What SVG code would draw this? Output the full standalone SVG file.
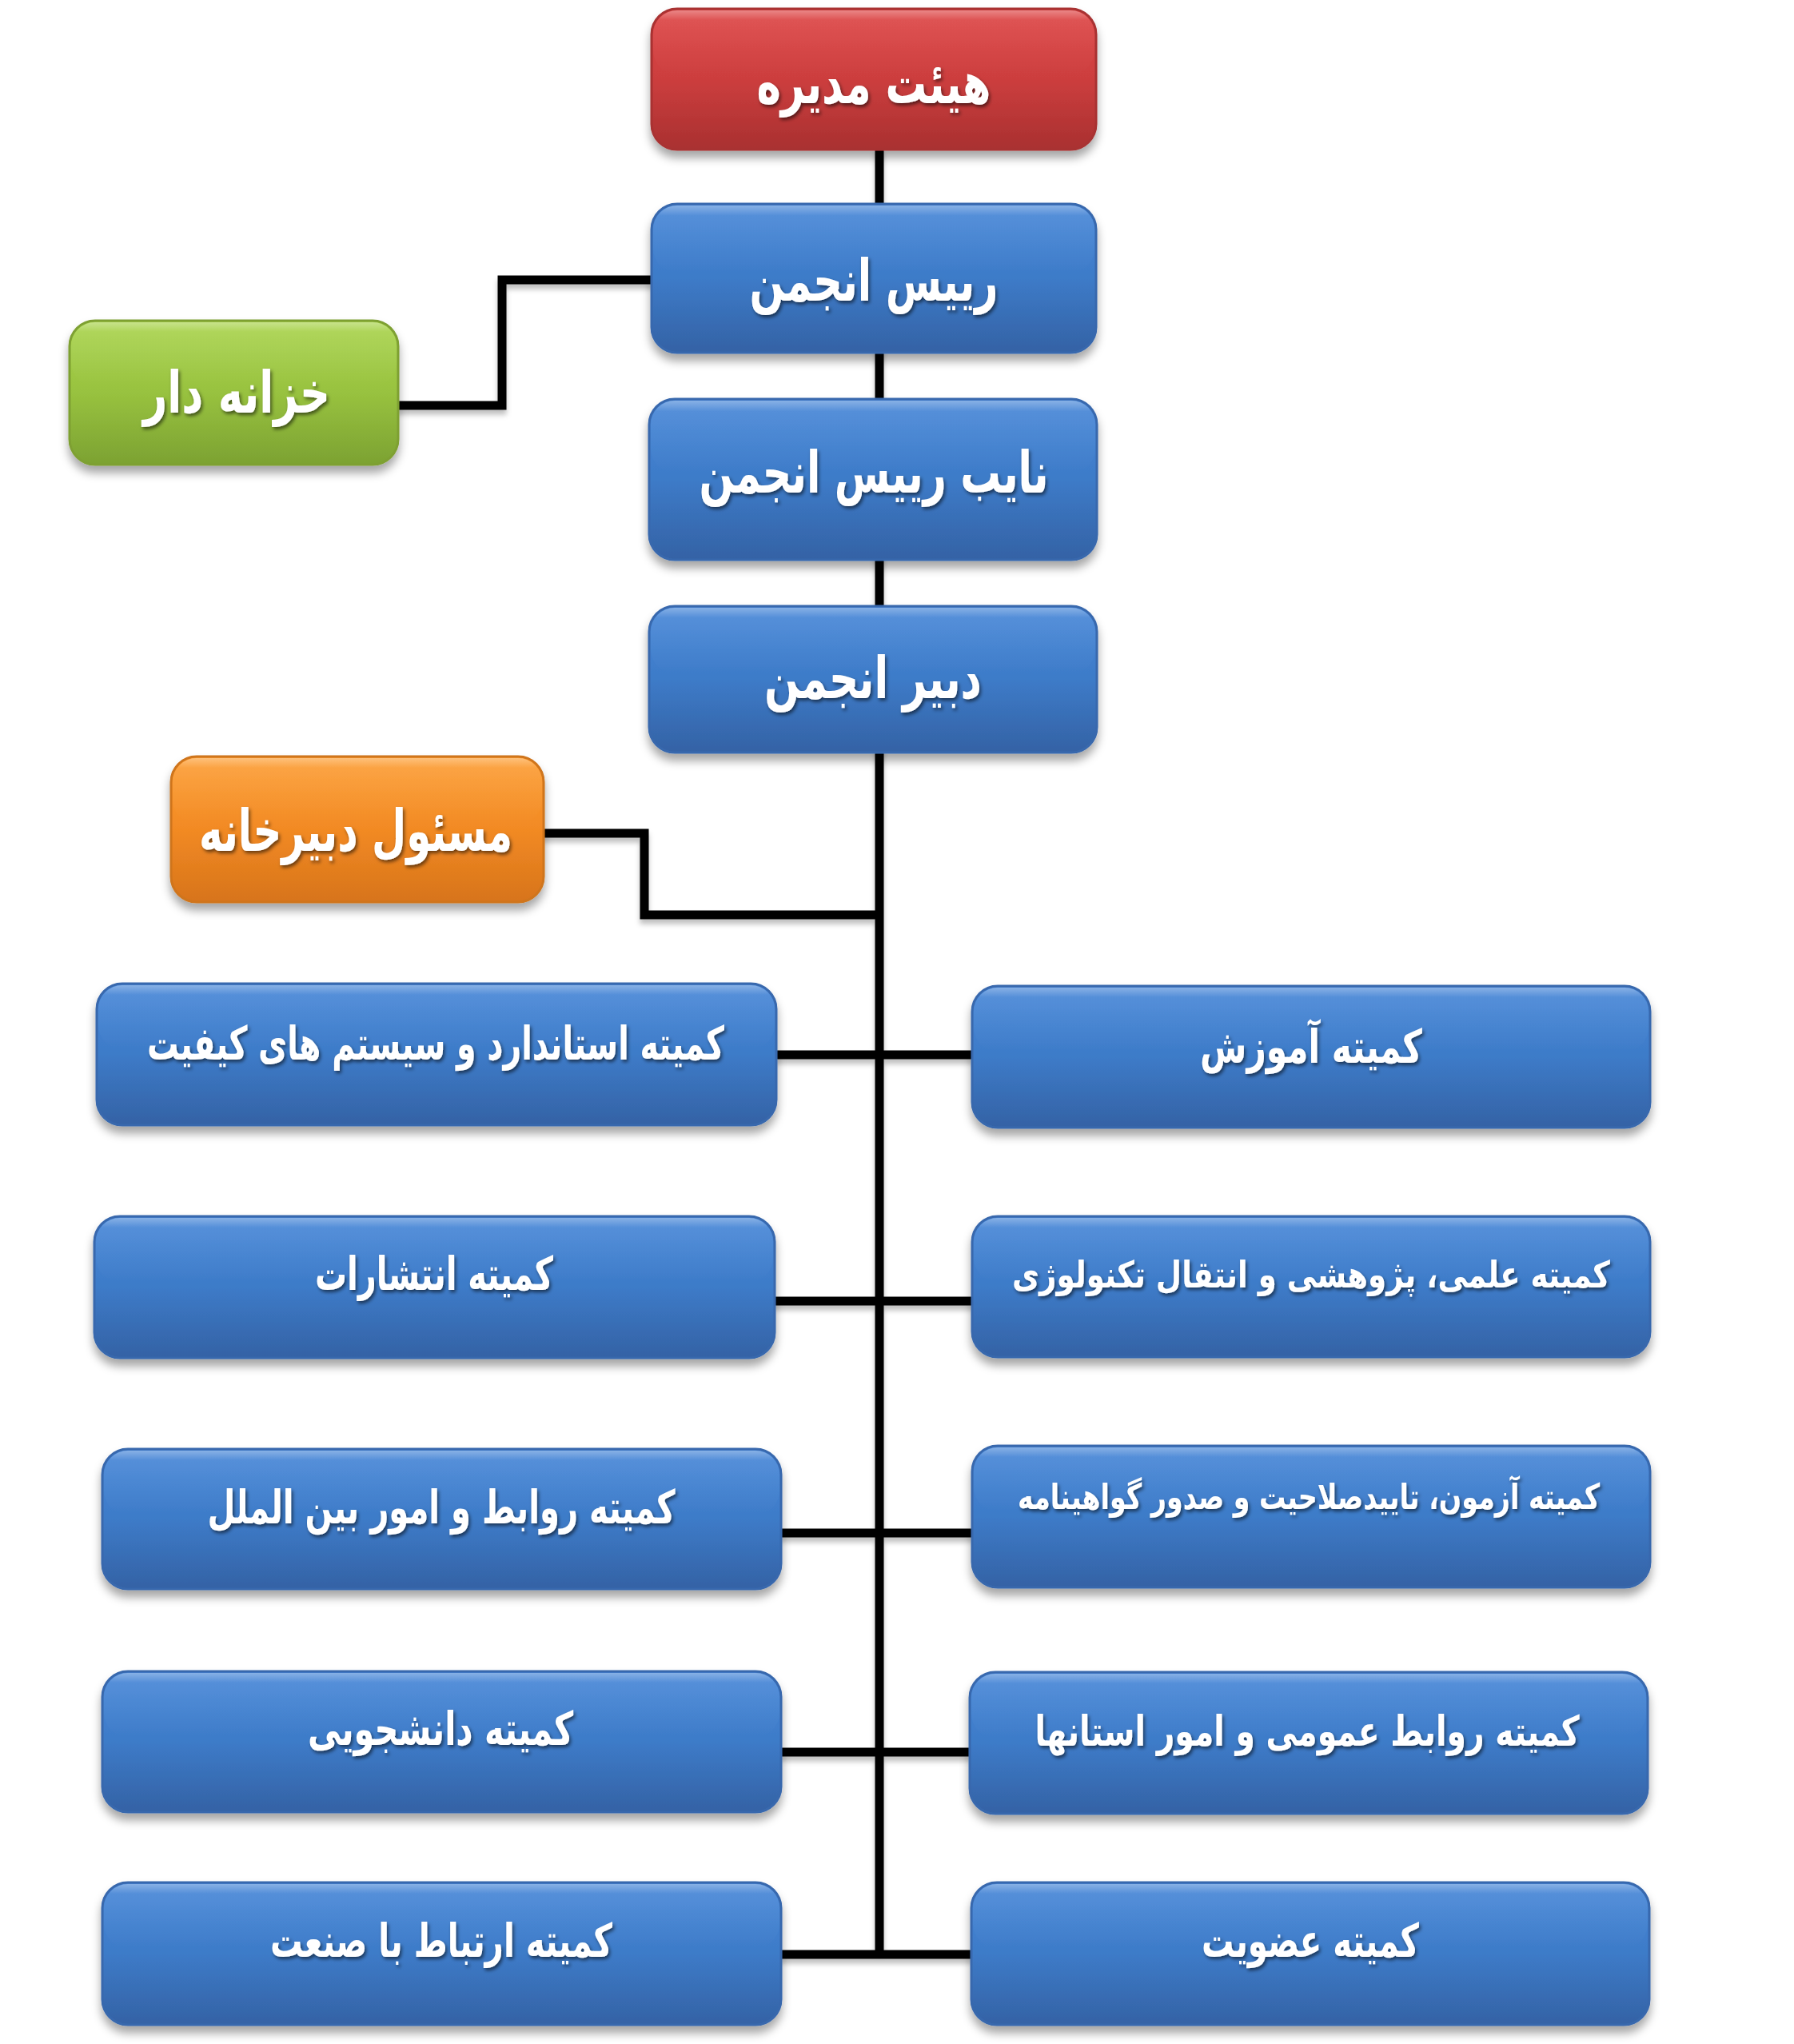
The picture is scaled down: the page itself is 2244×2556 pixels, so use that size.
<svg xmlns="http://www.w3.org/2000/svg" width="2244" height="2556" viewBox="0 0 2244 2556">
<defs>
  <linearGradient id="gBlue" x1="0" y1="0" x2="0" y2="1">
    <stop offset="0" stop-color="#4787d8"/>
    <stop offset="0.5" stop-color="#3d7bc8"/>
    <stop offset="1" stop-color="#3462a5"/>
  </linearGradient>
  <linearGradient id="gRed" x1="0" y1="0" x2="0" y2="1">
    <stop offset="0" stop-color="#de4545"/>
    <stop offset="0.5" stop-color="#cc3e3e"/>
    <stop offset="1" stop-color="#a93030"/>
  </linearGradient>
  <linearGradient id="gGreen" x1="0" y1="0" x2="0" y2="1">
    <stop offset="0" stop-color="#aad44e"/>
    <stop offset="0.5" stop-color="#98c23f"/>
    <stop offset="1" stop-color="#7ca232"/>
  </linearGradient>
  <linearGradient id="gOrange" x1="0" y1="0" x2="0" y2="1">
    <stop offset="0" stop-color="#fd9e34"/>
    <stop offset="0.5" stop-color="#f28a24"/>
    <stop offset="1" stop-color="#d7741a"/>
  </linearGradient>
  <linearGradient id="gGloss" x1="0" y1="0" x2="0" y2="1">
    <stop offset="0" stop-color="#ffffff" stop-opacity="0.35"/>
    <stop offset="0.15" stop-color="#ffffff" stop-opacity="0.08"/>
    <stop offset="1" stop-color="#ffffff" stop-opacity="0"/>
  </linearGradient>
  <filter id="boxShadow" x="-10%" y="-20%" width="120%" height="150%">
    <feDropShadow dx="0" dy="9" stdDeviation="6" flood-color="#000" flood-opacity="0.35"/>
  </filter>
  <filter id="lineShadow" filterUnits="userSpaceOnUse" x="0" y="0" width="2244" height="2556">
    <feDropShadow dx="0" dy="6" stdDeviation="3" flood-color="#000" flood-opacity="0.25"/>
  </filter>
  <filter id="txtShadow" filterUnits="userSpaceOnUse" x="0" y="0" width="2244" height="2556">
    <feDropShadow dx="2" dy="3" stdDeviation="2" flood-color="#000" flood-opacity="0.55"/>
  </filter>
</defs>
<style>
  .box { stroke-width: 3; filter: url(#boxShadow); }
  .blue { fill: url(#gBlue); stroke: #3868ad; }
  .red { fill: url(#gRed); stroke: #a83232; }
  .green { fill: url(#gGreen); stroke: #7ea033; }
  .orange { fill: url(#gOrange); stroke: #cf741c; }
  .gloss { fill: url(#gGloss); }
  .lbl { font-family: "DejaVu Sans", "Noto Sans", sans-serif; font-weight: bold; fill: #ffffff; text-anchor: middle; direction: rtl; filter: url(#txtShadow); }
  .big { font-size: 72px; }
  .mid { font-size: 58px; }
  .lng { font-size: 52px; }
  .xl { font-size: 46px; }
  .sm { font-size: 44px; }
  .conn { fill: none; stroke: #000000; stroke-width: 11; stroke-linejoin: miter; stroke-linecap: butt; }
</style>
<rect width="2244" height="2556" fill="#ffffff"/>

<g id="connectors" filter="url(#lineShadow)">
  <path class="conn" d="M1100 185 V2449"/>
  <path class="conn" d="M817 350 H628 V507 H496"/>
  <path class="conn" d="M678 1042 H806 V1144 H1100"/>
  <path class="conn" d="M969 1319 H1218"/>
  <path class="conn" d="M967 1627 H1218"/>
  <path class="conn" d="M975 1917 H1218"/>
  <path class="conn" d="M975 2191 H1215"/>
  <path class="conn" d="M975 2444 H1217"/>
</g>

<g id="n-board">
  <rect class="box red" x="815" y="11" width="556" height="176" rx="32"/>
  <rect class="gloss" x="817" y="13" width="552" height="80" rx="30"/>
  <text class="lbl big" x="1093" y="129" textLength="293" lengthAdjust="spacingAndGlyphs">هیئت مدیره</text>
</g>
<g id="n-president">
  <rect class="box blue" x="815" y="255" width="556" height="186" rx="32"/>
  <rect class="gloss" x="817" y="257" width="552" height="84" rx="30"/>
  <text class="lbl big" x="1093" y="376" textLength="311" lengthAdjust="spacingAndGlyphs">رییس انجمن</text>
</g>
<g id="n-vice">
  <rect class="box blue" x="812" y="499" width="560" height="201" rx="32"/>
  <rect class="gloss" x="814" y="501" width="556" height="90" rx="30"/>
  <text class="lbl big" x="1093" y="616" textLength="437" lengthAdjust="spacingAndGlyphs">نایب رییس انجمن</text>
</g>
<g id="n-secretary">
  <rect class="box blue" x="812" y="758" width="560" height="183" rx="32"/>
  <rect class="gloss" x="814" y="760" width="556" height="82" rx="30"/>
  <text class="lbl big" x="1092" y="873" textLength="272" lengthAdjust="spacingAndGlyphs">دبیر انجمن</text>
</g>
<g id="n-treasurer">
  <rect class="box green" x="87" y="401" width="411" height="180" rx="32"/>
  <rect class="gloss" x="89" y="403" width="407" height="80" rx="30"/>
  <text class="lbl big" x="296" y="516" textLength="234" lengthAdjust="spacingAndGlyphs">خزانه دار</text>
</g>
<g id="n-office">
  <rect class="box orange" x="214" y="946" width="466" height="182" rx="32"/>
  <rect class="gloss" x="216" y="948" width="462" height="82" rx="30"/>
  <text class="lbl big" x="445" y="1064" textLength="392" lengthAdjust="spacingAndGlyphs">مسئول دبیرخانه</text>
</g>

<g id="n-standard">
  <rect class="box blue" x="121" y="1230" width="850" height="177" rx="32"/>
  <rect class="gloss" x="123" y="1232" width="846" height="80" rx="30"/>
  <text class="lbl mid" x="545" y="1325" textLength="722" lengthAdjust="spacingAndGlyphs">کمیته استاندارد و سیستم های کیفیت</text>
</g>
<g id="n-publications">
  <rect class="box blue" x="118" y="1521" width="851" height="177" rx="32"/>
  <rect class="gloss" x="120" y="1523" width="847" height="80" rx="30"/>
  <text class="lbl mid" x="543" y="1613" textLength="298" lengthAdjust="spacingAndGlyphs">کمیته انتشارات</text>
</g>
<g id="n-international">
  <rect class="box blue" x="128" y="1812" width="849" height="175" rx="32"/>
  <rect class="gloss" x="130" y="1814" width="845" height="80" rx="30"/>
  <text class="lbl mid" x="552" y="1905" textLength="585" lengthAdjust="spacingAndGlyphs">کمیته روابط و امور بین الملل</text>
</g>
<g id="n-students">
  <rect class="box blue" x="128" y="2090" width="849" height="176" rx="32"/>
  <rect class="gloss" x="130" y="2092" width="845" height="80" rx="30"/>
  <text class="lbl mid" x="551" y="2182" textLength="332" lengthAdjust="spacingAndGlyphs">کمیته دانشجویی</text>
</g>
<g id="n-industry">
  <rect class="box blue" x="128" y="2354" width="849" height="178" rx="32"/>
  <rect class="gloss" x="130" y="2356" width="845" height="80" rx="30"/>
  <text class="lbl mid" x="552" y="2447" textLength="428" lengthAdjust="spacingAndGlyphs">کمیته ارتباط با صنعت</text>
</g>

<g id="n-education">
  <rect class="box blue" x="1216" y="1233" width="848" height="177" rx="32"/>
  <rect class="gloss" x="1218" y="1235" width="844" height="80" rx="30"/>
  <text class="lbl mid" x="1640" y="1329" textLength="278" lengthAdjust="spacingAndGlyphs">کمیته آموزش</text>
</g>
<g id="n-research">
  <rect class="box blue" x="1216" y="1521" width="848" height="176" rx="32"/>
  <rect class="gloss" x="1218" y="1523" width="844" height="80" rx="30"/>
  <text class="lbl xl" x="1640" y="1610" textLength="748" lengthAdjust="spacingAndGlyphs">کمیته علمی، پژوهشی و انتقال تکنولوژی</text>
</g>
<g id="n-exam">
  <rect class="box blue" x="1216" y="1808" width="848" height="177" rx="32"/>
  <rect class="gloss" x="1218" y="1810" width="844" height="80" rx="30"/>
  <text class="lbl sm" x="1637" y="1887" textLength="728" lengthAdjust="spacingAndGlyphs">کمیته آزمون، تاییدصلاحیت و صدور گواهینامه</text>
</g>
<g id="n-public">
  <rect class="box blue" x="1213" y="2091" width="848" height="177" rx="32"/>
  <rect class="gloss" x="1215" y="2093" width="844" height="80" rx="30"/>
  <text class="lbl lng" x="1635" y="2183" textLength="681" lengthAdjust="spacingAndGlyphs">کمیته روابط عمومی و امور استانها</text>
</g>
<g id="n-membership">
  <rect class="box blue" x="1215" y="2354" width="848" height="178" rx="32"/>
  <rect class="gloss" x="1217" y="2356" width="844" height="80" rx="30"/>
  <text class="lbl mid" x="1639" y="2447" textLength="272" lengthAdjust="spacingAndGlyphs">کمیته عضویت</text>
</g>
</svg>
